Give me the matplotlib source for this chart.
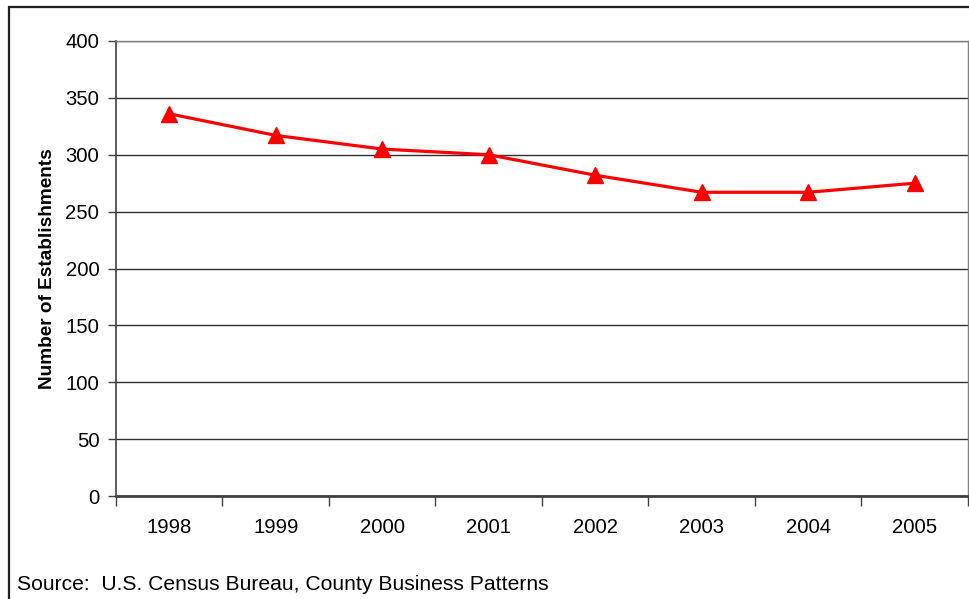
import matplotlib
matplotlib.use("Agg")
import matplotlib.pyplot as plt
from matplotlib.patches import Rectangle

years = ["1998", "1999", "2000", "2001", "2002", "2003", "2004", "2005"]
establishments = [336, 317, 305, 300, 282, 267, 267, 275]
yticks = [0, 50, 100, 150, 200, 250, 300, 350, 400]

plt.rcParams['font.family'] = ['Liberation Sans', 'DejaVu Sans']

W, H = 970, 599
fig = plt.figure(figsize=(W/100, H/100), dpi=100)
ax = fig.add_axes([116/W, 1 - 496/H, (968-116)/W, (496-41)/H])

x = list(range(len(years)))
ax.plot(x, establishments, color='#FF0000', lw=2.3, marker='^', markersize=12,
        markerfacecolor='#FF0000', markeredgecolor='#FF0000', zorder=3, clip_on=False)

ax.set_xlim(-0.5, len(years) - 0.5)
ax.set_ylim(0, 400)
ax.set_yticks(yticks)
ax.set_yticklabels([str(v) for v in yticks], fontsize=14.6)
ax.set_xticks(x)
ax.set_xticklabels(years, fontsize=14.6)
ax.tick_params(axis='x', which='major', length=0, pad=16)
ax.set_xticks([i - 0.5 for i in range(len(years) + 1)], minor=True)
ax.tick_params(axis='x', which='minor', length=7, width=1, color='#404040', direction='out')
ax.tick_params(axis='y', length=6, width=1, color='#404040', direction='out', pad=6)

ax.grid(axis='y', color='#303030', lw=1)
ax.set_axisbelow(True)
for s in ['top', 'right']:
    ax.spines[s].set_color('#808080')
    ax.spines[s].set_linewidth(1)
ax.spines['left'].set_color('#404040')
ax.spines['left'].set_linewidth(1.2)
ax.spines['bottom'].set_color('#404040')
ax.spines['bottom'].set_linewidth(2)

ax.set_ylabel('Number of Establishments', fontsize=13.7, fontweight='bold', labelpad=7)

fig.text(17/W, 1 - 590/H, 'Source:  U.S. Census Bureau, County Business Patterns',
         fontsize=15.2, ha='left', va='baseline')

fig.patches.append(Rectangle((9/W, -0.1), 1.2, 1 - 7/H + 0.1, transform=fig.transFigure,
                             fill=False, edgecolor='#202020', lw=1.6, zorder=0))

fig.savefig('out.png', dpi=100)
